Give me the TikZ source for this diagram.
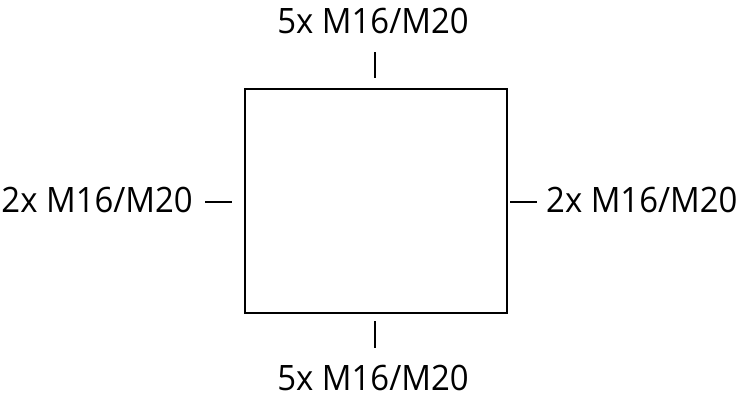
\documentclass[tikz,border=0pt]{standalone}
\usepackage{fontspec}
\setmainfont{Open Sans}
\newcommand{\narrowtxt}[1]{\scalebox{0.94}[1]{#1}}
\begin{document}
\begin{tikzpicture}[x=1pt,y=-1pt,
  lbl/.style={inner sep=0pt,font=\fontsize{35}{40}\selectfont},
  ln/.style={line width=2pt}]
\useasboundingbox (0,0) rectangle (747,400);
\node[draw,ln,minimum width=262pt,minimum height=224pt,inner sep=0pt,anchor=north west] (box) at (243.5,88) {};
\coordinate (t1) at (375,52); \coordinate (t2) at (375,78);
\coordinate (b1) at (375,321); \coordinate (b2) at (375,348);
\coordinate (l1) at (205,202); \coordinate (l2) at (232,202);
\coordinate (r1) at (510,202); \coordinate (r2) at (537,202);
\draw[ln] (t1) -- (t2);
\draw[ln] (b1) -- (b2);
\draw[ln] (l1) -- (l2);
\draw[ln] (r1) -- (r2);
\node[lbl,anchor=base] (top) at (373,33) {\narrowtxt{5x M16/M20}};
\node[lbl,anchor=base] (bot) at (373,390) {\narrowtxt{5x M16/M20}};
\node[lbl,anchor=base east] (left) at (193,212) {\narrowtxt{2x M16/M20}};
\node[lbl,anchor=base west] (right) at (546,212) {\narrowtxt{2x M16/M20}};
\end{tikzpicture}
\end{document}
